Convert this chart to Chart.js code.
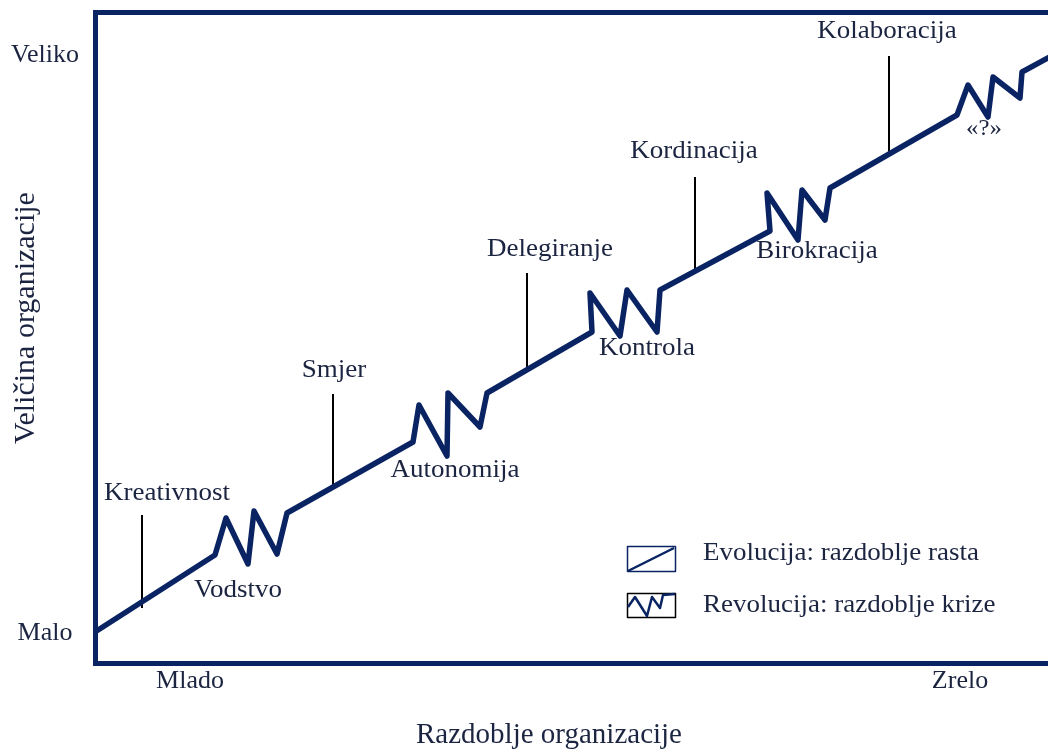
<!DOCTYPE html>
<html lang="hr">
<head>
<meta charset="UTF-8">
<title>Faze rasta organizacije</title>
<script src="https://cdn.jsdelivr.net/npm/chart.js"></script>
<style>
    html, body { margin: 0; padding: 0; background: #fff; }
    #wrap { width: 1048px; height: 749px; position: relative; }
</style>
</head>
<body>
<div id="wrap"><canvas id="myChart"></canvas></div>
<script>
// growth path: evolution stretches joined by revolution zig-zags
var pathX = [0, 120, 131, 153, 159, 182, 192, 318, 324, 352, 353, 385, 392, 497, 495, 525, 532, 562, 565, 675, 672, 703, 707, 730, 735, 862, 873, 893, 898, 925, 927, 960];
var pathY = [31, 108, 145, 99, 152, 109, 150, 221, 258, 207, 270, 236, 270, 331, 370, 327, 373, 331, 373, 432, 470, 423, 473, 443, 475, 548, 578, 546, 586, 565, 591, 609];

// evolution stages (vertical markers)
var stageNames = ['Kreativnost', 'Smjer', 'Delegiranje', 'Kordinacija', 'Kolaboracija'];
var stageX = [47, 238, 432, 600, 794];
var stageTop = [148, 269, 390, 486, 607];
var stageBottom = [55, 175, 295, 390, 509];
var stageLabelX = [72, 239, 455, 599, 792];
var stageLabelY = [163, 286, 407, 505, 625];

// revolution crises
var crisisNames = ['Vodstvo', 'Autonomija', 'Kontrola', 'Birokracija', '«?»'];
var crisisLabelX = [143, 360, 552, 722, 889];
var crisisLabelY = [66, 186, 308, 405, 528];

// axes
var xTickVals = [95, 865];
var xTickLabels = ['Mlado', 'Zrelo'];
var yTickVals = [30, 608];
var yTickLabels = ['Malo', 'Veliko'];
var xTitle = 'Razdoblje organizacije';
var yTitle = 'Veličina organizacije';
var legendLabels = ['Evolucija: razdoblje rasta', 'Revolucija: razdoblje krize'];

var NAVY = '#0a2463';
var TEXT = '#1b2440';
var SERIF = "'Liberation Serif', 'Times New Roman', serif";
var STRETCH = 1.08; // the source lettering is a little wide

var datasets = [{
    data: pathX.map(function (x, i) { return { x: x, y: pathY[i] }; }),
    showLine: true,
    borderColor: NAVY,
    borderWidth: 5.5,
    borderJoinStyle: 'round',
    pointRadius: 0
}];
stageX.forEach(function (x, i) {
    datasets.push({
        data: [{ x: x, y: stageBottom[i] }, { x: x, y: stageTop[i] }],
        showLine: true,
        borderColor: '#000',
        borderWidth: 2,
        pointRadius: 0
    });
});

function wideText(ctx, t, x, y) {
    ctx.save();
    ctx.translate(x, y);
    ctx.scale(STRETCH, 1);
    ctx.fillText(t, 0, 0);
    ctx.restore();
}

var textPlugin = {
    id: 'textLabels',
    afterDraw: function (chart) {
        var ctx = chart.ctx, xs = chart.scales.x, ys = chart.scales.y, a = chart.chartArea;
        ctx.save();
        ctx.fillStyle = TEXT;
        ctx.textAlign = 'center';
        ctx.textBaseline = 'alphabetic';
        ctx.font = '25px ' + SERIF;
        stageNames.forEach(function (t, i) {
            wideText(ctx, t, xs.getPixelForValue(stageLabelX[i]), ys.getPixelForValue(stageLabelY[i]));
        });
        crisisNames.forEach(function (t, i) {
            // the last crisis is the unknown one, set smaller
            ctx.font = (i === crisisNames.length - 1 ? '23px ' : '25px ') + SERIF;
            wideText(ctx, t, xs.getPixelForValue(crisisLabelX[i]), ys.getPixelForValue(crisisLabelY[i]));
        });

        // axis titles
        ctx.font = '29px ' + SERIF;
        ctx.fillText(xTitle, a.left + 454, a.bottom + 80);
        ctx.save();
        ctx.font = '30px ' + SERIF;
        ctx.translate(26, 318);
        ctx.rotate(-Math.PI / 2);
        ctx.textBaseline = 'middle';
        ctx.fillText(yTitle, 0, 0);
        ctx.restore();

        // legend
        ctx.lineJoin = 'round';
        ctx.strokeStyle = NAVY;
        ctx.lineWidth = 1.5;
        ctx.strokeRect(627.5, 546.5, 48, 25);
        ctx.lineWidth = 2.5;
        ctx.beginPath();
        ctx.moveTo(628, 571);
        ctx.lineTo(674, 548);
        ctx.stroke();

        ctx.strokeStyle = '#000';
        ctx.lineWidth = 1.5;
        ctx.strokeRect(627.5, 593.5, 48, 24);
        ctx.strokeStyle = NAVY;
        ctx.lineWidth = 2.5;
        ctx.beginPath();
        ctx.moveTo(628, 607);
        ctx.lineTo(635, 597);
        ctx.lineTo(647, 616);
        ctx.lineTo(652, 597);
        ctx.lineTo(660, 608);
        ctx.lineTo(663, 595);
        ctx.lineTo(675, 594);
        ctx.stroke();

        ctx.font = '25px ' + SERIF;
        ctx.textAlign = 'left';
        wideText(ctx, legendLabels[0], 703, 560);
        wideText(ctx, legendLabels[1], 703, 612);
        ctx.restore();
    }
};

var tickFont = { family: SERIF, size: 26 };

var ctx = document.getElementById('myChart').getContext('2d');
var myChart = new Chart(ctx, {
    type: 'scatter',
    data: { datasets: datasets },
    options: {
        responsive: true,
        maintainAspectRatio: false,
        animation: false,
        events: [],
        layout: { padding: 0 },
        plugins: { legend: { display: false }, tooltip: { enabled: false } },
        scales: {
            x: {
                type: 'linear', position: 'bottom', min: 0, max: 953,
                grid: { display: false, drawTicks: false },
                border: { display: true, color: NAVY, width: 5 },
                afterBuildTicks: function (s) { s.ticks = xTickVals.map(function (v) { return { value: v }; }); },
                ticks: {
                    autoSkip: false, maxRotation: 0, padding: 3, color: TEXT, font: tickFont,
                    callback: function (v, i) { return xTickLabels[i]; }
                },
                afterFit: function (s) { s.height = 86; s.paddingLeft = 0; s.paddingRight = 0; }
            },
            xTop: {
                type: 'linear', position: 'top', min: 0, max: 953,
                grid: { display: false, drawTicks: false },
                ticks: { display: false },
                border: { display: true, color: NAVY, width: 5 },
                afterFit: function (s) { s.height = 12; s.paddingLeft = 0; s.paddingRight = 0; }
            },
            y: {
                type: 'linear', position: 'left', min: 0, max: 651,
                grid: { display: false, drawTicks: false },
                border: { display: true, color: NAVY, width: 5 },
                afterBuildTicks: function (s) { s.ticks = yTickVals.map(function (v) { return { value: v }; }); },
                ticks: {
                    autoSkip: false, crossAlign: 'center', padding: 16, color: TEXT, font: tickFont,
                    callback: function (v, i) { return yTickLabels[i]; }
                },
                afterFit: function (s) { s.width = 95; s.paddingTop = 0; s.paddingBottom = 0; }
            }
        }
    },
    plugins: [textPlugin]
});
</script>
</body>
</html>
